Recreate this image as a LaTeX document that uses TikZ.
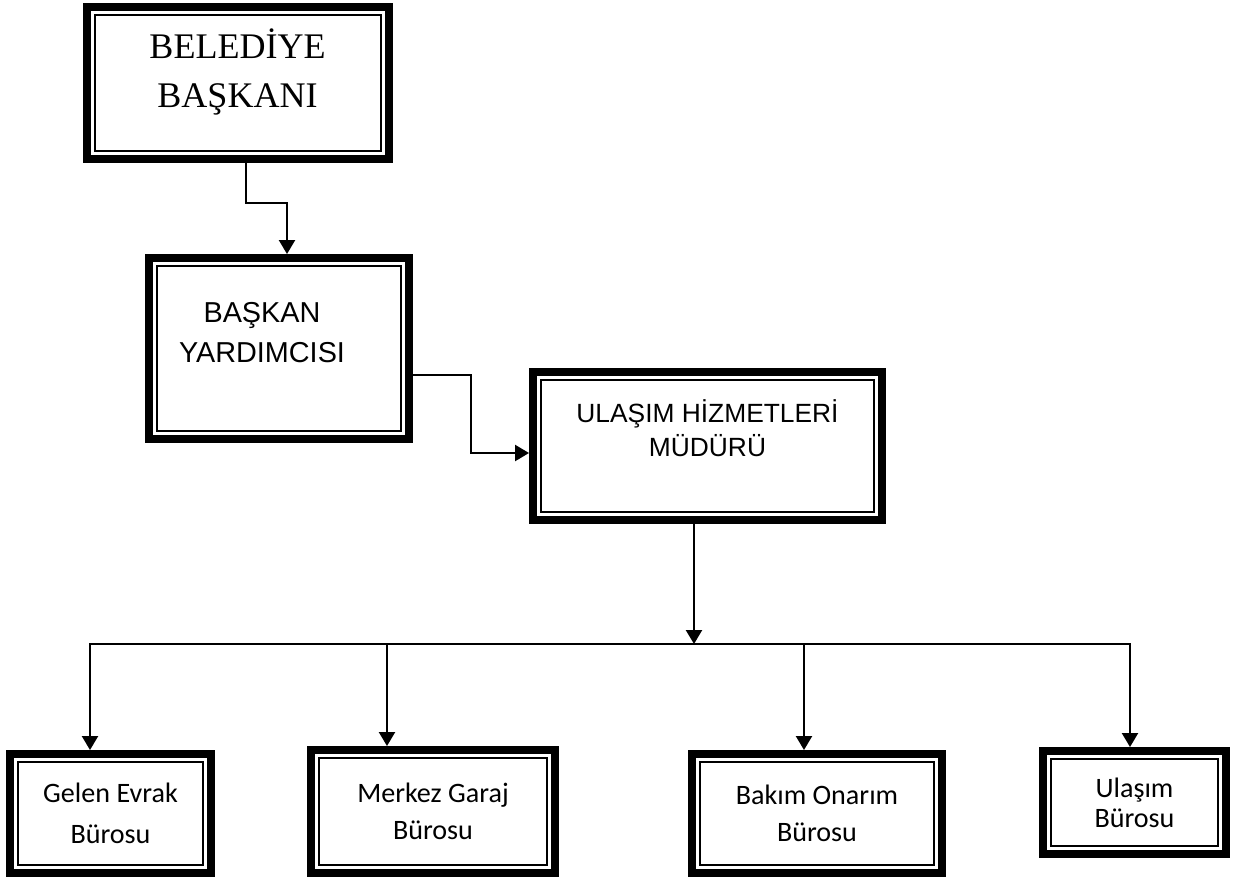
\documentclass[tikz,border=0pt]{standalone}
\usepackage{fontspec}
\usetikzlibrary{arrows.meta}

\newfontfamily\timesfont{Liberation Serif}
\newfontfamily\arialfont{Liberation Sans}
\newfontfamily\calibrifont{Carlito}

\begin{document}
\begin{tikzpicture}[x=0.02cm, y=-0.02cm,
    kutu/.style={
        rectangle,
        draw,
        line width=0.16cm,
        inner sep=0pt,
        outer sep=0.08cm,
        align=center,
        path picture={
            \draw[line width=0.04cm]
                ([shift={(0.16cm,0.16cm)}]path picture bounding box.south west)
                rectangle
                ([shift={(-0.16cm,-0.16cm)}]path picture bounding box.north east);
        }
    },
    yazi/.style={align=center, inner sep=0pt},
    ok/.style={line width=0.045cm, -{Triangle[length=0.28cm, width=0.32cm]}}
]

    \useasboundingbox (0,0) rectangle (1235,877);



    \node (belediye_baskani) [kutu, minimum width=6.04cm, minimum height=3.04cm, shift={(238,83)}] {};
    \node (belediye_baskani_yazi) [yazi, font=\timesfont\fontsize{20.5}{28.4}\selectfont, shift={(237.5,72)}]
    {
        BELEDİYE\\BAŞKANI
    };

    \node (baskan_yardimcisi) [kutu, minimum width=5.2cm, minimum height=3.62cm, shift={(279,348.5)}] {};
    \node (baskan_yardimcisi_yazi) [yazi, font=\arialfont\fontsize{16.4}{22.8}\selectfont, shift={(262,332.5)}]
    {
        BAŞKAN\\YARDIMCISI
    };

    \node (ulasim_hizmetleri_muduru) [kutu, minimum width=6.98cm, minimum height=2.96cm, shift={(707.5,446)}] {};
    \node (ulasim_hizmetleri_muduru_yazi) [yazi, font=\arialfont\fontsize{15}{19.3}\selectfont, shift={(707.5,428)}]
    {
        ULAŞIM HİZMETLERİ\\MÜDÜRÜ
    };



    \node (gelen_evrak_burosu) [kutu, font=\calibrifont\fontsize{16}{23.6}\selectfont, minimum width=4.02cm, minimum height=2.38cm, shift={(110.5,813.5)}]
    {
        Gelen Evrak\\Bürosu
    };

    \node (merkez_garaj_burosu) [kutu, font=\calibrifont\fontsize{16}{20.8}\selectfont, minimum width=4.88cm, minimum height=2.46cm, shift={(433,811.5)}]
    {
        Merkez Garaj\\Bürosu
    };

    \node (bakim_onarim_burosu) [kutu, font=\calibrifont\fontsize{16}{20.8}\selectfont, minimum width=5.0cm, minimum height=2.38cm, shift={(817,813.5)}]
    {
        Bakım Onarım\\Bürosu
    };

    \node (ulasim_burosu) [kutu, font=\calibrifont\fontsize{16}{17}\selectfont, minimum width=3.66cm, minimum height=2.06cm, shift={(1134.5,802.5)}]
    {
        Ulaşım\\Bürosu
    };



    \coordinate (dirsek_ust) at (287,203);
    \coordinate (dirsek_orta) at (471,375);
    \coordinate (dirsek_alt) at (471,453);
    \coordinate (dagitim) at (694,644);
    \coordinate (dagitim_sol) at (90,644);
    \coordinate (dagitim_sag) at (1130,644);
    \coordinate (merkez_dal) at (387,644);
    \coordinate (bakim_dal) at (804,644);


    \draw[ok] ([xshift=0.16cm]belediye_baskani.south) |- (dirsek_ust) -- (dirsek_ust |- baskan_yardimcisi.north);
    \draw[ok] (baskan_yardimcisi.east |- dirsek_orta) -- (dirsek_orta) -- (dirsek_alt) -- (ulasim_hizmetleri_muduru.west |- dirsek_alt);
    \draw[ok] (ulasim_hizmetleri_muduru.south -| dagitim) -- (dagitim);

    \draw[ok] (dagitim) -| (dagitim_sol |- gelen_evrak_burosu.north);
    \draw[ok] (dagitim) -| (dagitim_sag |- ulasim_burosu.north);
    \draw[ok] (merkez_dal) -- (merkez_dal |- merkez_garaj_burosu.north);
    \draw[ok] (bakim_dal) -- (bakim_dal |- bakim_onarim_burosu.north);


\end{tikzpicture}
\end{document}
